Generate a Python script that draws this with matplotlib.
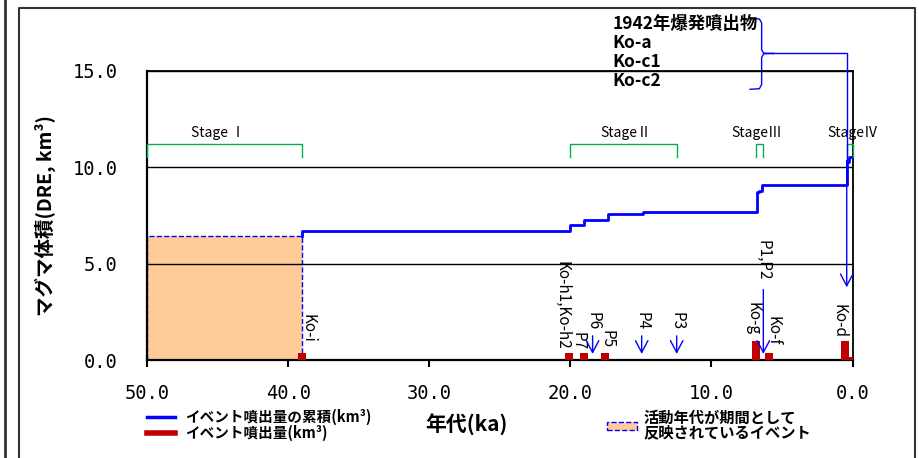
import matplotlib
matplotlib.use("Agg")
import matplotlib.pyplot as plt
from matplotlib.lines import Line2D
from matplotlib.patches import Rectangle, FancyArrowPatch

plt.rcParams['font.family'] = ['Noto Sans CJK JP', 'DejaVu Sans']

# ---- data ----
x_ticks = [50.0, 40.0, 30.0, 20.0, 10.0, 0.0]
y_ticks = [0.0, 5.0, 10.0, 15.0]
x_tick_labels = ["50.0", "40.0", "30.0", "20.0", "10.0", "0.0"]
y_tick_labels = ["0.0", "5.0", "10.0", "15.0"]

# cumulative erupted volume (step, from old to young)
cum_age = [39.0, 39.0, 20.0, 19.05, 17.35, 14.87, 6.79, 6.6, 6.39, 0.41, 0.25, 0.0]
cum_vol = [6.45, 6.70, 7.00, 7.27, 7.58, 7.68, 8.70, 8.79, 9.08, 10.29, 10.55, 10.55]

# individual event volumes
bar_age = [39.0, 20.1, 19.03, 17.54, 6.84, 5.92, 0.55, 0.0]
bar_vol = [0.37, 0.38, 0.38, 0.38, 1.00, 0.35, 1.00, 0.17]

# event whose age is a period (50-39 ka)
period_start = 50.0
period_end = 39.0
period_vol = 6.45

# stages
stage_names = ["Stage Ⅰ", "StageⅡ", "StageⅢ", "StageⅣ"]
stage_start = [50.0, 20.0, 6.84, 0.41]
stage_end = [39.0, 12.46, 6.32, 0.0]
stage_label_x = [45.0, 16.1, 6.8, 0.0]

# event labels (vertical text)
event_names = ["Ko-i", "Ko-h1,Ko-h2", "P7", "P6", "P5", "P4", "P3", "P1,P2", "Ko-g", "Ko-f", "Ko-d"]
event_label_age = [38.57, 20.62, 19.43, 18.42, 17.42, 14.94, 12.46, 6.32, 7.03, 5.62, 0.96]
event_label_base = [0.87, 0.52, 0.52, 1.56, 0.61, 1.56, 1.56, 4.15, 1.30, 0.78, 1.13]

# arrows marking tephra without bars
arrow_age = [18.42, 14.94, 12.46, 6.32]
arrow_top = [1.40, 1.40, 1.40, 3.80]

group_names = ["1942年爆発噴出物", "Ko-a", "Ko-c1", "Ko-c2"]
group_age = 0.41

BLUE = '#0000FF'
RED = '#C00000'
GREEN = '#00B050'
ORANGE = '#FFCC99'

fig = plt.figure(figsize=(9.2, 4.58), dpi=100)
ax = fig.add_axes([147/920, 1-360/458, (852.5-147)/920, (360-71)/458])

ax.set_xlim(50, 0)
ax.set_ylim(0, 15)

# period rectangle (below grid lines)
ax.bar([period_start], [period_vol], width=period_end - period_start, bottom=0, align='edge',
       color=ORANGE, edgecolor=BLUE, linestyle='--', linewidth=1.0, zorder=0.2)

# grid
ax.set_yticks(y_ticks)
ax.set_yticklabels(y_tick_labels, family='DejaVu Sans Mono', fontsize=13.5)
ax.set_xticks(x_ticks)
ax.set_xticklabels(x_tick_labels, family='DejaVu Sans Mono', fontsize=13.5)
ax.yaxis.grid(True, color='black', linewidth=1.0)
ax.set_axisbelow(True)
ax.tick_params(axis='y', length=0, pad=21)
ax.tick_params(axis='x', direction='out', length=5, width=1.5, pad=12)
for s in ['left', 'bottom']:
    ax.spines[s].set_linewidth(1.6)
for s in ['top', 'right']:
    ax.spines[s].set_linewidth(1.3)

# bars
ax.bar(bar_age, bar_vol, width=0.55, color=RED, zorder=3)

# cumulative line
ax.step(cum_age, cum_vol, where='post', color=BLUE, linewidth=2.0, zorder=4)

# stage brackets
for name, a0, a1, lx in zip(stage_names, stage_start, stage_end, stage_label_x):
    ax.plot([a0, a0, a1, a1], [10.55, 11.19, 11.19, 10.55], color=GREEN, linewidth=1.0,
            clip_on=False, zorder=3)
    ax.text(lx, 11.8, name, ha='center', va='center', fontsize=10, clip_on=False)

# event labels
for name, a, b in zip(event_names, event_label_age, event_label_base):
    ax.text(a, b, name, rotation=270, ha='center', va='bottom', fontsize=11, zorder=5)

# arrows
for a, t in zip(arrow_age, arrow_top):
    arr = FancyArrowPatch((a, t), (a, 0.17), arrowstyle='->,head_length=0.85,head_width=0.45',
                          mutation_scale=10, color=BLUE, linewidth=1.0, zorder=5)
    ax.add_patch(arr)

# group annotation with brace
for i, g in enumerate(group_names):
    ax.text(17.0, 17.44 - i * 0.98, g, ha='left', va='center', fontsize=12.5,
            fontweight='bold', clip_on=False)
brace_top = [(7.26, 17.73), (6.6, 17.70), (6.44, 17.5), (6.44, 16.1), (6.3, 15.93), (5.62, 15.91)]
brace_bot = [(7.26, 14.05), (6.6, 14.08), (6.44, 14.3), (6.44, 15.7), (6.3, 15.89), (5.62, 15.91)]
for pts in (brace_top, brace_bot):
    ax.plot([p[0] for p in pts], [p[1] for p in pts], color=BLUE, linewidth=1.0, clip_on=False)
ax.plot([5.62, group_age, group_age], [15.91, 15.91, 10.0], color=BLUE, linewidth=1.0,
        clip_on=False, zorder=5)
arr = FancyArrowPatch((group_age, 10.5), (group_age, 3.63),
                      arrowstyle='->,head_length=0.85,head_width=0.45',
                      mutation_scale=10, color=BLUE, linewidth=1.0, zorder=5, clip_on=False)
ax.add_patch(arr)

# axis labels
fig.text(45/920, 1-216/458, "マグマ体積(DRE, km³)", rotation=90, ha='center', va='center',
         fontsize=14, fontweight='bold')
fig.text(466/920, 1-425/458, "年代(ka)", ha='center', va='center', fontsize=15, fontweight='bold')

# legends (manual)
fig.add_artist(Line2D([147/920, 175/920], [1-417.3/458]*2, color=BLUE, linewidth=2.5))
fig.text(185/920, 1-417.3/458, "イベント噴出量の累積(km³)", ha='left', va='center',
         fontsize=10.5, fontweight='bold')
fig.add_artist(Line2D([147/920, 175/920], [1-432.7/458]*2, color=RED, linewidth=4))
fig.text(185/920, 1-432.7/458, "イベント噴出量(km³)", ha='left', va='center',
         fontsize=10.5, fontweight='bold')
fig.add_artist(Rectangle((607/920, 1-430/458), 30/920, 8.5/458, transform=fig.transFigure,
                         facecolor=ORANGE, edgecolor=BLUE, linestyle='--', linewidth=1.0))
fig.text(643/920, 1-418/458, "活動年代が期間として", ha='left', va='center',
         fontsize=11, fontweight='bold')
fig.text(643/920, 1-432.7/458, "反映されているイベント", ha='left', va='center',
         fontsize=11, fontweight='bold')

# outer frame
fig.add_artist(Line2D([5/920, 5/920], [0, 1], color='#333333', linewidth=2.0))
fig.add_artist(Line2D([19/920, 19/920, 915/920, 915/920], [0, 1-8/458, 1-8/458, 0],
                      color='#333333', linewidth=1.5))

fig.savefig("out.png", dpi=100)
